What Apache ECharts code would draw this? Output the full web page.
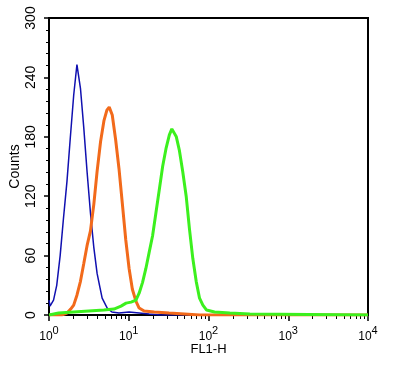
<!DOCTYPE html>
<html>
<head>
<meta charset="utf-8">
<script src="https://cdn.jsdelivr.net/npm/echarts@6/dist/echarts.min.js"></script>
<style>html,body{margin:0;padding:0;background:#fff}#c{width:399px;height:368px}</style>
</head>
<body>
<div id="c"></div>
<script>
// Tick values
const xMajorTicks = [1, 10, 100, 1000, 10000];
const xMinorTicks = [2,3,4,5,6,7,8,9,20,30,40,50,60,70,80,90,200,300,400,500,600,700,800,900,2000,3000,4000,5000,6000,7000,8000,9000];
const yTicks = [0, 60, 120, 180, 240, 300];

// Blue (control) histogram
const blueX = [1.0, 1.03, 1.08, 1.14, 1.25, 1.38, 1.52, 1.68, 1.85, 2.04, 2.24, 2.48, 2.73, 3.0, 3.31, 3.65, 4.01, 4.3, 4.64, 5.37, 6.15, 7.54, 10.1, 13.5, 18, 25, 10000];
const blueY = [15, 9, 10, 15, 30, 60, 98, 135, 179, 222, 253, 229, 189, 145, 103, 68, 42, 30, 17, 7, 3, 2, 3, 2, 1, 0, 0];

// Orange histogram
const orangeX = [1.0, 1.44, 1.68, 1.87, 2.04, 2.24, 2.48, 2.73, 3.0, 3.31, 3.65, 4.01, 4.43, 4.88, 5.32, 5.69, 6.21, 6.85, 7.54, 8.30, 9.17, 10.1, 11.1, 12.3, 13.5, 15.6, 20.9, 32, 50, 77, 10000];
const orangeY = [0, 0, 2, 6, 10, 20, 34, 52, 70, 85, 112, 145, 175, 196, 207, 210, 202, 177, 148, 113, 76, 47, 26, 14, 7, 4, 3, 2, 1, 0, 0];

// Green histogram
const greenX = [1.0, 1.32, 2.04, 3.15, 4.88, 6.52, 8.0, 9.25, 10.7, 12.3, 13.5, 14.9, 16.4, 18.0, 19.9, 21.9, 24.2, 26.6, 29.3, 32.3, 34.7, 36.6, 39.5, 43.2, 47.5, 52.5, 57.7, 63.6, 70.1, 77.2, 85, 94.6, 119, 185, 330, 10000];
const greenY = [0, 2, 3, 4, 5, 6, 9, 12, 13, 15, 22, 33, 47, 63, 80, 103, 127, 150, 168, 182, 188, 190, 180, 166, 145, 120, 87, 57, 34, 17, 10, 5, 3, 2, 1, 0];

const pairs = (xs, ys) => xs.map((x, i) => [x, ys[i]]);

const chart = echarts.init(document.getElementById('c'), null, {renderer: 'canvas'});
const font = 'Liberation Sans, Arial, Helvetica, sans-serif';
chart.setOption({
  animation: false,
  backgroundColor: '#fff',
  grid: {left: 49, right: 31, top: 18, bottom: 53, containLabel: false, outerBoundsMode: 'none', show: true, borderColor: '#000', borderWidth: 2, backgroundColor: 'transparent'},
  xAxis: {
    type: 'log', logBase: 10, min: 1, max: 10000,
    name: 'FL1-H', nameLocation: 'middle', nameGap: 28, nameMoveOverlap: false,
    nameTextStyle: {fontFamily: font, fontSize: 13, color: '#000'},
    axisLine: {onZero: false, lineStyle: {color: '#000', width: 2}},
    axisTick: {show: true, inside: false, length: 6, lineStyle: {color: '#000', width: 1.5}},
    splitLine: {show: false},
    axisLabel: {
      margin: 10, color: '#000', fontFamily: font,
      formatter: v => '{b|10}{s|' + Math.round(Math.log10(v)) + '}',
      rich: {
        b: {fontSize: 12, fontFamily: font, color: '#000', lineHeight: 18, verticalAlign: 'bottom'},
        s: {fontSize: 11, fontFamily: font, color: '#000', lineHeight: 11, verticalAlign: 'top'}
      }
    }
  },
  yAxis: {
    type: 'value', min: 0, max: 300, interval: 60,
    name: 'Counts', nameLocation: 'middle', nameGap: 27, nameMoveOverlap: false,
    nameTextStyle: {fontFamily: font, fontSize: 14, color: '#000'},
    axisLine: {show: true, lineStyle: {color: '#000', width: 2}},
    axisTick: {show: true, inside: false, length: 5, lineStyle: {color: '#000', width: 1.5}},
    minorTick: {show: true, splitNumber: 5, length: 3, lineStyle: {color: '#000', width: 1}},
    splitLine: {show: false},
    axisLabel: {
      rotate: 90, margin: 11, fontSize: 14, fontFamily: font, color: '#000',
      customValues: yTicks
    }
  },
  series: [
    {type: 'line', data: pairs(blueX, blueY), showSymbol: false, lineStyle: {color: '#1010b0', width: 1.5}, itemStyle: {color: '#1010b0'}},
    {type: 'line', data: pairs(orangeX, orangeY), showSymbol: false, lineStyle: {color: '#f26a1b', width: 3}, itemStyle: {color: '#f26a1b'}},
    {type: 'line', data: pairs(greenX, greenY), showSymbol: false, lineStyle: {color: '#3cf01e', width: 3}, itemStyle: {color: '#3cf01e'}},
    {
      type: 'custom', clip: false, silent: true, z: 1,
      data: xMinorTicks.map(v => [v, 0]),
      renderItem: (params, api) => {
        const p = api.coord([api.value(0), 0]);
        const x = Math.round(p[0]) + 0.5;
        return {type: 'line', shape: {x1: x, y1: p[1] + 1, x2: x, y2: p[1] + 4}, style: {stroke: '#000', lineWidth: 1}};
      }
    }
  ]
});
</script>
</body>
</html>
